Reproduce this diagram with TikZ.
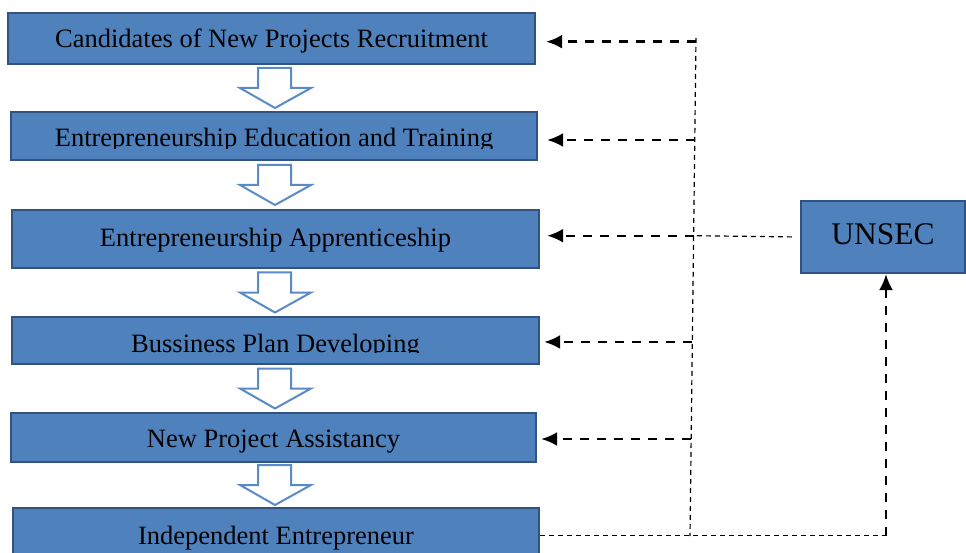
\documentclass[tikz,border=0pt]{standalone}
\usepackage{fontspec}
\setmainfont{Liberation Serif}
\usetikzlibrary{arrows.meta,calc}
\definecolor{boxblue}{HTML}{4F81BD}
\definecolor{boxedge}{HTML}{32527F}
\definecolor{arrowblue}{HTML}{5A8BC8}
\begin{document}
\begin{tikzpicture}[x=1pt,y=-1pt,
  stagebox/.style={draw=boxedge, fill=boxblue, line width=2.3pt, inner sep=0pt,
    font=\fontsize{26.5}{30}\selectfont, text depth=0pt, anchor=center},
  blockarrow/.style={draw=arrowblue, fill=white, line width=2pt, line join=miter},
  thickdash/.style={line width=2.4pt, dash pattern=on 9pt off 8pt, -{Latex[length=16pt,width=14pt]}},
  thindash/.style={line width=1.2pt, dash pattern=on 5pt off 4pt},
]
\useasboundingbox (0,0) rectangle (966,553);
\clip (0,0) rectangle (966,553);

% stage boxes
\node[stagebox, minimum width=527, minimum height=51, text height=17.6pt] (b1) at (271.5,38.5) {Candidates of New Projects Recruitment};
\node[stagebox, minimum width=526, minimum height=48, text height=22pt] (b2) at (274,136) {Entrepreneurship Education and Training};
\node[stagebox, minimum width=527, minimum height=58, text height=15pt] (b3) at (275.5,239) {Entrepreneurship Apprenticeship};
\node[stagebox, minimum width=527, minimum height=47, text height=23.6pt] (b4) at (275.5,340.5) {Bussiness Plan Developing};
\node[stagebox, minimum width=525, minimum height=49, text height=19.6pt] (b5) at (273.5,437.5) {New Project Assistancy};
\node[stagebox, minimum width=526, minimum height=55, text height=17pt] (b6) at (276,535.5) {Independent Entrepreneur};
\node[stagebox, minimum width=164, minimum height=72, text height=16pt, font=\fontsize{31.5}{36}\selectfont] (u) at (883,237) {UNSEC};

% text cut off at the bottom of two boxes
\fill[boxblue] ($(b2.south west)+(2,-12)$) rectangle ($(b2.south east)+(-2,-2.2)$);
\fill[boxblue] ($(b4.south west)+(2,-12)$) rectangle ($(b4.south east)+(-2,-2.2)$);

% block arrows between stages
\foreach \a/\b in {b1/b2,b2/b3,b3/b4,b4/b5,b5/b6}
  \draw[blockarrow] let \p1=(\a.south), \p2=(\b.north) in
    (258pt,{(\y1+\y2)/2+20pt}) -- ++(33,0) -- ++(0,20) -- ++(20,0) -- ++(-36,20)
    -- ++(-35,-20) -- ++(18,0) -- cycle;

% dashed feedback lines
\coordinate (vt) at (696,38);
\coordinate (vb) at (690,536);
\draw[thindash] (vt) -- (vb);
\coordinate (v1) at ($(vt)!0.0074!(vb)$);
\coordinate (v2) at ($(vt)!0.2048!(vb)$);
\coordinate (v3) at ($(vt)!(u.west)!(vb)$);
\coordinate (v4) at ($(vt)!0.6104!(vb)$);
\coordinate (v5) at ($(vt)!0.8052!(vb)$);
\draw[thindash, shorten <=8pt] (u.west) -- (v3);
\draw[thickdash, shorten >=10pt] (v1) -- (v1 -| b1.east);
\draw[thickdash, shorten >=9pt] (v2) -- (v2 -| b2.east);
\draw[thickdash, shorten >=7pt] (v3) -- (v3 -| b3.east);
\draw[thickdash, shorten >=4pt] (v4) -- (v4 -| b4.east);
\draw[thickdash, shorten >=4pt] (v5) -- (v5 -| b5.east);
\coordinate (c) at (886,535.5);
\draw[thindash] (b6.east) -- (b6.east -| c);
\draw[thickdash] (c) -- (c |- u.south);
\end{tikzpicture}
\end{document}
